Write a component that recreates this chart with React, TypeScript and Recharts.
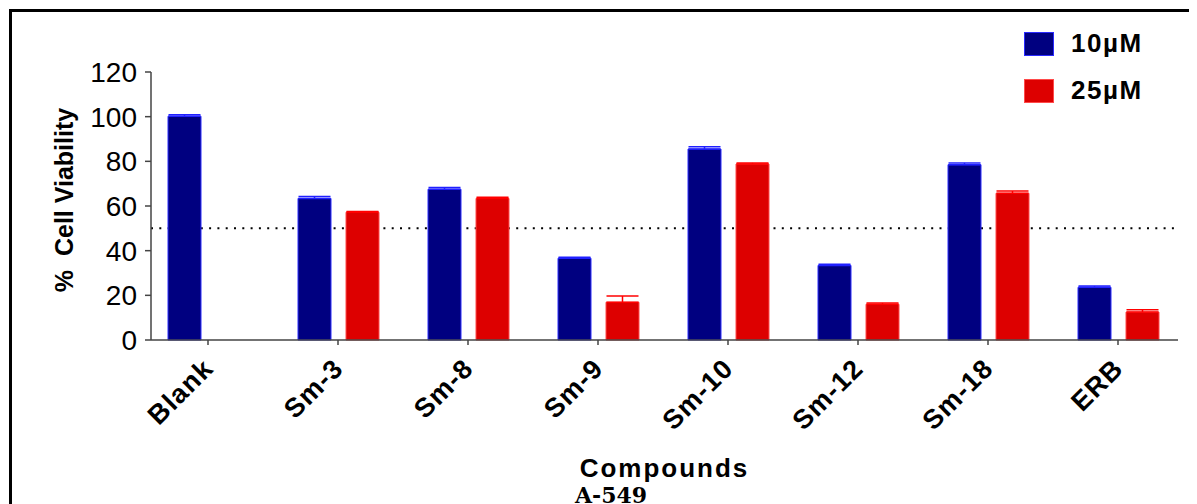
import React from 'react';
import { BarChart, Bar, XAxis, YAxis, ReferenceLine, ErrorBar, Legend } from 'recharts';

const categories = ['Blank', 'Sm-3', 'Sm-8', 'Sm-9', 'Sm-10', 'Sm-12', 'Sm-18', 'ERB'];
const viability10 = [100.2, 63.4, 67.5, 36.6, 85.5, 33.4, 78.5, 23.6];
const error10 = [0.7, 0.8, 0.8, 0.4, 1.0, 0.5, 0.8, 0.6];
const viability25: (number | undefined)[] = [undefined, 57.2, 63.4, 16.9, 78.8, 16.0, 65.7, 12.5];
const error25: (number | undefined)[] = [undefined, 0.3, 0.5, 2.8, 0.5, 0.6, 1.0, 1.0];
const yTicks = [0, 20, 40, 60, 80, 100, 120];
const seriesNames = ['10\u00b5M', '25\u00b5M'];
const threshold = 50;

const fills = ['#000080', '#dd0000'];
const strokes = ['#2a2aff', '#ff4a4a'];
const errColors = ['#2020ff', '#ff0000'];
const FONT = '"Liberation Sans", Arial, sans-serif';

const data = categories.map((name, i) => ({
  name,
  v10: viability10[i],
  e10: [0, error10[i]],
  v25: viability25[i],
  e25: error25[i] == null ? undefined : [0, error25[i] as number],
}));

const XTick = (props: any) => {
  const { x, y, payload } = props;
  const ax = x + 7;
  const ay = y + 23;
  return (
    <text
      x={ax}
      y={ay}
      transform={`rotate(-45, ${ax}, ${ay})`}
      textAnchor="end"
      fontFamily={FONT}
      fontWeight={700}
      fontSize={27}
      letterSpacing={1.2}
      fill="#000"
    >
      {payload.value}
    </text>
  );
};

const LegendContent = () => (
  <div>
    {seriesNames.map((n, i) => (
      <div key={n} style={{ display: 'flex', alignItems: 'center', height: 47 }}>
        <div style={{ width: 28, height: 22, background: fills[i], border: `1px solid ${strokes[i]}` }} />
        <span
          style={{
            marginLeft: 17,
            fontFamily: FONT,
            fontWeight: 700,
            fontSize: 26,
            letterSpacing: 1.5,
            color: '#000',
          }}
        >
          {n}
        </span>
      </div>
    ))}
  </div>
);

const YLabel = (props: any) => {
  const vb = props.viewBox || {};
  const x = vb.x + 2;
  const y = vb.y + 128;
  return (
    <text
      x={x}
      y={y}
      transform={`rotate(-90, ${x}, ${y})`}
      textAnchor="middle"
      fontFamily={FONT}
      fontWeight={700}
      fontSize={25}
      style={{ whiteSpace: 'pre' }}
      fill="#000"
    >
      {'%  Cell Viability'}
    </text>
  );
};

const XLabel = (props: any) => {
  const vb = props.viewBox || {};
  return (
    <text
      x={vb.x + vb.width / 2}
      y={vb.y + 137}
      textAnchor="middle"
      fontFamily={FONT}
      fontWeight={700}
      fontSize={26}
      letterSpacing={2}
      fill="#000"
    >
      Compounds
    </text>
  );
};

export default function App() {
  return (
    <div style={{ position: 'relative', width: 1189, height: 496, overflow: 'hidden', background: '#fff' }}>
      <div
        style={{
          position: 'absolute',
          left: 1,
          top: 1,
          width: 1300,
          height: 600,
          borderTop: '3px solid #000',
          borderLeft: '3px solid #000',
        }}
      />
      <div style={{ position: 'absolute', left: 0, top: 0 }}>
        <BarChart
          width={1189}
          height={480}
          data={data}
          margin={{ top: 64, right: 19, left: 63, bottom: 0 }}
          barSize={33}
          barGap={15}
        >
          <XAxis
            dataKey="name"
            height={148}
            padding={{ left: -8, right: -5 }}
            axisLine={{ stroke: '#444', strokeWidth: 1.5 }}
            tickLine={{ stroke: '#444', strokeWidth: 1.5 }}
            tickSize={5}
            tickMargin={2}
            interval={0}
            tick={<XTick />}
            label={<XLabel />}
          />
          <YAxis
            domain={[0, 120]}
            ticks={yTicks}
            width={80}
            axisLine={{ stroke: '#444', strokeWidth: 1.5 }}
            tickLine={{ stroke: '#444', strokeWidth: 1.5 }}
            tickSize={6}
            tickMargin={8}
            tick={{ fontSize: 28, fill: '#000', fontFamily: FONT }}
            label={<YLabel />}
          />
          <ReferenceLine
            y={threshold}
            stroke="#000"
            strokeWidth={2}
            strokeDasharray="2 6.3"
            zIndex={100}
          />
          <Legend
            layout="vertical"
            align="center"
            verticalAlign="middle"
            content={<LegendContent />}
            wrapperStyle={{ left: 1016, top: 12, width: 170, height: 94 }}
          />
          <Bar dataKey="v10" name={seriesNames[0]} fill={fills[0]} stroke={strokes[0]} strokeWidth={1} isAnimationActive={false}>
            <ErrorBar dataKey="e10" direction="y" width={16} stroke={errColors[0]} strokeWidth={1.5} />
          </Bar>
          <Bar dataKey="v25" name={seriesNames[1]} fill={fills[1]} stroke={strokes[1]} strokeWidth={1} isAnimationActive={false}>
            <ErrorBar dataKey="e25" direction="y" width={16} stroke={errColors[1]} strokeWidth={1.5} />
          </Bar>
        </BarChart>
      </div>
      <div
        style={{
          position: 'absolute',
          left: 503,
          top: 476,
          width: 200,
          textAlign: 'center',
          fontFamily: '"DejaVu Serif", serif',
          fontWeight: 700,
          fontSize: 22,
          lineHeight: '22px',
          color: '#000',
        }}
      >
        A-549
      </div>
    </div>
  );
}
